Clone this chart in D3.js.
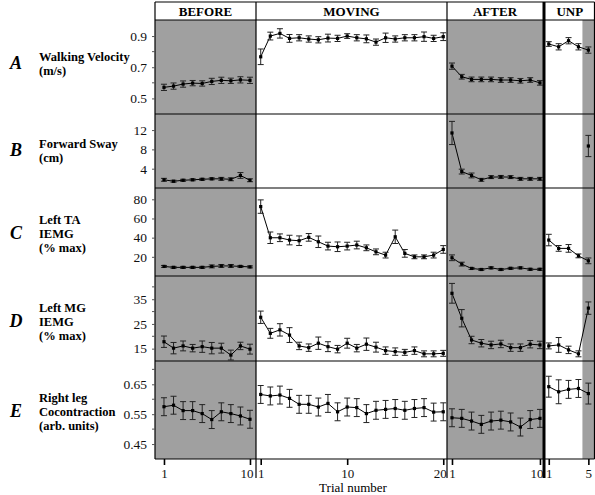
<!DOCTYPE html>
<html><head><meta charset="utf-8">
<script src="https://cdn.jsdelivr.net/npm/d3@7/dist/d3.min.js"></script>
<style>body{margin:0;background:#fff}svg{display:block}
svg text{font-family:"Liberation Serif","Times New Roman",Times,"DejaVu Serif",serif}</style>
</head><body>
<script>
// ---- data ----
const sectionNames = ["BEFORE", "MOVING", "AFTER", "UNP"];
const sectionTrials = [10, 20, 10, 5];
const sectionTickLabels = [[1, 10], [1, 10, 20], [1, 10], [1, 5]];
const rowLetters = ["A", "B", "C", "D", "E"];
const rowTitles = [["Walking Velocity", "(m/s)"], ["Forward Sway", "(cm)"], ["Left TA", "IEMG", "(% max)"], ["Left MG", "IEMG", "(% max)"], ["Right leg", "Cocontraction", "(arb. units)"]];
const rowTicks = [[0.5, 0.7, 0.9], [4, 8, 12], [20, 40, 60, 80], [15, 25, 35], [0.45, 0.55, 0.65]];
const rowMinorTicks = [[0.6, 0.8], [], [], [20, 30, 40], [0.5, 0.6, 0.7]];
const rowTickFormat = [".1f", "d", "d", "d", ".2f"];

// values per section: BEFORE(10) MOVING(20) AFTER(10) UNP(5)
const velocity = [
  [0.571, 0.579, 0.592, 0.598, 0.596, 0.609, 0.616, 0.613, 0.619, 0.616],
  [0.767, 0.900, 0.917, 0.885, 0.889, 0.881, 0.876, 0.887, 0.885, 0.900, 0.889, 0.882, 0.861, 0.889, 0.881, 0.889, 0.889, 0.896, 0.885, 0.896],
  [0.707, 0.639, 0.622, 0.622, 0.622, 0.618, 0.618, 0.613, 0.618, 0.600],
  [0.849, 0.831, 0.870, 0.831, 0.810]];
const velocityErr = [
  [0.02, 0.02, 0.02, 0.017, 0.017, 0.02, 0.02, 0.017, 0.02, 0.02],
  [0.05, 0.025, 0.03, 0.025, 0.02, 0.02, 0.02, 0.025, 0.02, 0.015, 0.02, 0.025, 0.02, 0.03, 0.02, 0.02, 0.02, 0.03, 0.02, 0.025],
  [0.02, 0.015, 0.015, 0.015, 0.015, 0.015, 0.015, 0.015, 0.015, 0.015],
  [0.015, 0.02, 0.02, 0.02, 0.02]];
const sway = [
  [1.7, 1.4, 1.6, 1.7, 1.8, 1.9, 1.9, 1.8, 2.6, 1.6],
  Array(20).fill(null),
  [11.4, 3.4, 2.6, 1.7, 2.25, 2.3, 2.25, 1.9, 1.9, 1.9],
  [null, null, null, null, 8.7]];
const swayErr = [
  [0.3, 0.2, 0.2, 0.2, 0.2, 0.2, 0.3, 0.3, 0.6, 0.3],
  Array(20).fill(null),
  [2.4, 0.5, 0.5, 0.3, 0.3, 0.3, 0.3, 0.3, 0.3, 0.3],
  [null, null, null, null, 2.2]];
const leftTA = [
  [10, 9, 9, 9, 9, 10, 10.5, 10.5, 10, 9.5],
  [72.4, 39.9, 39.9, 37.5, 36.8, 40.3, 35.7, 31.2, 30.5, 31.2, 32.3, 29.4, 25.2, 21.8, 40.9, 23.6, 20, 20, 21.8, 27.7],
  [19, 12.4, 7.9, 6.8, 8.5, 6.8, 8, 8.5, 7, 7],
  [37.5, 28.8, 28.8, 21.0, 15.8]];
const leftTAErr = [
  [1, 1, 1, 1, 1, 1.5, 1.5, 1.5, 1, 1],
  [7, 6, 4, 5, 5, 4, 6, 4, 5, 4, 4, 3, 3, 3, 7, 4, 2, 2, 3, 4],
  [3, 2, 1, 1, 1, 1, 1, 1, 1, 1],
  [6, 3, 4, 2, 3]];
const leftMG = [
  [17.8, 15.2, 16.1, 15.2, 15.8, 15.2, 15.2, 12.4, 16.1, 14.8],
  [27.7, 21.2, 22.6, 20.5, 16.1, 15.4, 17.2, 15.8, 14.8, 17.2, 15.2, 16.8, 15.6, 14.2, 13.8, 13.5, 14.2, 12.9, 12.9, 13.1],
  [37.4, 27.3, 18.5, 17.2, 16.5, 16.9, 15.4, 15.4, 16.8, 16.5],
  [16.1, 16.5, 14.5, 12.9, 31.4]];
const leftMGErr = [
  [2.3, 2.3, 2, 1.5, 2.3, 2.3, 2, 2, 1.5, 2],
  [2.5, 2, 2.5, 3, 1.5, 1.5, 2.5, 2, 1.5, 2, 1.5, 2.5, 2, 1.5, 1.5, 1.2, 1.5, 1.2, 1.2, 1.2],
  [4, 3.5, 1.5, 1.5, 1.5, 1.5, 1.5, 1.5, 1.5, 1.5],
  [1.2, 3, 1.5, 1.2, 2.5]];
const cocontraction = [
  [0.575, 0.580, 0.562, 0.562, 0.552, 0.532, 0.558, 0.552, 0.544, 0.533],
  [0.616, 0.611, 0.614, 0.603, 0.583, 0.583, 0.574, 0.586, 0.558, 0.574, 0.572, 0.552, 0.563, 0.566, 0.569, 0.563, 0.569, 0.572, 0.557, 0.558],
  [0.538, 0.536, 0.527, 0.516, 0.527, 0.530, 0.524, 0.507, 0.532, 0.536],
  [0.642, 0.625, 0.633, 0.636, 0.619]];
const cocontractionErr = [
  Array(10).fill(0.03),
  Array(20).fill(0.03),
  Array(10).fill(0.03),
  [0.035, 0.04, 0.03, 0.03, 0.035]];

const rowValues = [velocity, sway, leftTA, leftMG, cocontraction];
const rowErrors = [velocityErr, swayErr, leftTAErr, leftMGErr, cocontractionErr];
// shaded trial ranges per section (null = whole section)
const shaded = [[0, null, null], [2, null, null], [3, 4.4, null]];

// ---- layout ----
const W = 595, H = 495;
const colRanges = [[155, 256], [256, 447], [447, 543], [545, 594.5]];
const colDomains = [[0.06, 10.63], [0.51, 20.39], [0.49, 10.31], [0.62, 5.62]];
const rowRanges = [[20, 114], [114, 188], [188, 276], [276, 361], [361, 459]];
const rowDomains = [[0.4, 1.003], [0, 15.33], [0, 91.8], [10, 44.4], [0.4, 0.728]];
const headerTop = 2;
const labelCenters = [63, 150, 233, 321, 411];

const svg = d3.select("body").append("svg").attr("width", W).attr("height", H);

const xs = colRanges.map((r, i) => d3.scaleLinear().domain(colDomains[i]).range(r));
const ys = rowRanges.map((r, i) => d3.scaleLinear().domain(rowDomains[i]).range([r[1], r[0]]));

// shading
shaded.forEach(([c, a, b]) => {
  const x0 = a == null ? colRanges[c][0] : xs[c](a);
  const x1 = b == null ? colRanges[c][1] : xs[c](b);
  svg.append("rect").attr("x", x0).attr("y", rowRanges[0][0]).attr("width", x1 - x0)
    .attr("height", rowRanges[4][1] - rowRanges[0][0]).attr("fill", "#a0a0a0");
});

// grid lines (borders)
const left = colRanges[0][0], right = colRanges[3][1];
const hLines = [headerTop].concat(rowRanges.map(r => r[0]), [rowRanges[4][1]]);
hLines.forEach(y => svg.append("line").attr("x1", left).attr("x2", right).attr("y1", y).attr("y2", y)
  .attr("stroke", "#000").attr("stroke-width", 1.2));
const vLines = [
  {x: left, y2: rowRanges[4][1], w: 1.2},
  {x: 256, y2: 478, w: 1.2},
  {x: 447, y2: 478, w: 1.2},
  {x: 544, y2: 478, w: 3},
  {x: right, y2: rowRanges[4][1], w: 1.2}];
vLines.forEach(v => svg.append("line").attr("x1", v.x).attr("x2", v.x).attr("y1", headerTop).attr("y2", v.y2)
  .attr("stroke", "#000").attr("stroke-width", v.w));

// headers
sectionNames.forEach((n, i) => {
  svg.append("text").attr("x", (colRanges[i][0] + colRanges[i][1]) / 2).attr("y", 16)
    .attr("text-anchor", "middle").attr("font-weight", "bold")
    .attr("font-size", 13).text(n);
});

// row labels & y ticks
rowTitles.forEach((lines, r) => {
  svg.append("text").attr("x", 16).attr("y", labelCenters[r] + 6).attr("text-anchor", "middle")
    .attr("font-weight", "bold").attr("font-style", "italic")
    .attr("font-size", 18).text(rowLetters[r]);
  const n = lines.length, lh = 14;
  lines.forEach((t, k) => {
    svg.append("text").attr("x", 39).attr("y", labelCenters[r] + (k - (n - 1) / 2) * lh + 4.5)
      .attr("font-weight", "bold").attr("font-size", 12.5).text(t);
  });
  const y = ys[r];
  const ax = svg.append("g").attr("transform", `translate(${left},0)`)
    .call(d3.axisLeft(y).tickValues(rowTicks[r]).tickSize(3).tickFormat(d3.format(rowTickFormat[r])));
  ax.select(".domain").remove();
  ax.attr("font-family", null);
  ax.selectAll("text").attr("font-size", 13.5).attr("fill", "#111").attr("x", -8);
  ax.selectAll("line").attr("stroke", "#555");
  rowMinorTicks[r].forEach(v => svg.append("line").attr("x1", left - 3).attr("x2", left)
    .attr("y1", y(v)).attr("y2", y(v)).attr("stroke", "#555"));
});

// series
rowValues.forEach((sections, r) => {
  const y = ys[r];
  sections.forEach((vals, c) => {
    const x = xs[c];
    const pts = vals.map((v, i) => ({t: i + 1, v, e: rowErrors[r][c][i]})).filter(d => d.v != null);
    const g = svg.append("g");
    g.append("path").datum(pts).attr("fill", "none").attr("stroke", "#000").attr("stroke-width", 1)
      .attr("d", d3.line().x(d => x(d.t)).y(d => y(d.v)));
    const eb = g.selectAll(".eb").data(pts).enter().append("g").attr("stroke", "#222").attr("stroke-width", 1);
    eb.append("line").attr("x1", d => x(d.t)).attr("x2", d => x(d.t)).attr("y1", d => y(d.v - d.e)).attr("y2", d => y(d.v + d.e));
    eb.append("line").attr("x1", d => x(d.t) - 3).attr("x2", d => x(d.t) + 3).attr("y1", d => y(d.v - d.e)).attr("y2", d => y(d.v - d.e));
    eb.append("line").attr("x1", d => x(d.t) - 3).attr("x2", d => x(d.t) + 3).attr("y1", d => y(d.v + d.e)).attr("y2", d => y(d.v + d.e));
    g.selectAll(".m").data(pts).enter().append("rect").attr("x", d => x(d.t) - 1.6).attr("y", d => y(d.v) - 1.6)
      .attr("width", 3.2).attr("height", 3.2).attr("fill", "#000");
  });
});

// bottom axes
const bottom = rowRanges[4][1];
xs.forEach((x, c) => {
  const ax = svg.append("g").attr("transform", `translate(0,${bottom})`)
    .call(d3.axisBottom(x).tickValues(sectionTickLabels[c]).tickSize(6).tickPadding(4).tickFormat(d3.format("d")));
  ax.select(".domain").remove();
  ax.attr("font-family", null);
  ax.selectAll("line").attr("stroke", "#000").attr("stroke-width", 1.6);
  const ticks = sectionTickLabels[c];
  ax.selectAll("text").attr("font-size", 13).attr("fill", "#111")
    .attr("text-anchor", (d, i) => (i === ticks.length - 1 && c < 3) ? "end" : "middle")
    .attr("dx", (d, i) => (i === ticks.length - 1 && c < 3) ? 3 : 0);
});
svg.append("text").attr("x", 353).attr("y", 492).attr("text-anchor", "middle")
  .attr("font-size", 13).text("Trial number");
</script>
</body></html>
